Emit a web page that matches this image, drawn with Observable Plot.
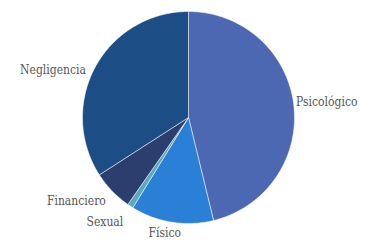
<!DOCTYPE html>
<html><head><meta charset="utf-8">
<script src="https://cdn.jsdelivr.net/npm/d3@7"></script>
<script src="https://cdn.jsdelivr.net/npm/@observablehq/plot@0.6"></script>
<style>body{margin:0;background:#fff}</style>
</head><body><div id="chart"></div>
<script>
const categories = ["Psicológico", "Físico", "Sexual", "Financiero", "Negligencia"];
const values = [46.2, 12.6, 0.9, 6.2, 34.1];
const colors = ["#4C68B2", "#2A7FD6", "#5BA9BE", "#2C3E6E", "#1D4D85"];

const pie = d3.pie().sort(null).value(d => d.value);
const arcs = pie(categories.map((c, i) => ({category: c, value: values[i]})));

// polygon points for each slice in unit-radius coordinates (y up)
const pts = [];
arcs.forEach(a => {
  const c = a.data.category;
  pts.push({category: c, x: 0, y: 0});
  const n = Math.max(2, Math.ceil((a.endAngle - a.startAngle) / 0.01));
  for (let k = 0; k <= n; k++) {
    const t = a.startAngle + (a.endAngle - a.startAngle) * k / n;
    pts.push({category: c, x: Math.sin(t), y: Math.cos(t)});
  }
  pts.push({category: c, x: 0, y: 0});
});

// label layout nudges (pixels), styling only
const nudge = {
  "Psicológico": [-5, -2], "Físico": [-6, -1], "Sexual": [-3, 5],
  "Financiero": [-1, 0], "Negligencia": [-3, 7]
};

const labels = arcs.map(a => {
  const m = (a.startAngle + a.endAngle) / 2;
  const R = 1.07;
  const s = Math.sin(m), co = Math.cos(m);
  return {
    category: a.data.category,
    x: s * R, y: co * R,
    anchor: s > 0.3 ? "start" : (s < -0.3 ? "end" : "middle"),
    line: co < -0.5 ? "top" : "middle"
  };
});

const textMarks = labels.map(d => Plot.text([d], {
  x: "x", y: "y", text: "category", textAnchor: d.anchor, lineAnchor: d.line,
  dx: nudge[d.category][0], dy: nudge[d.category][1],
  fill: "#555555", fontSize: 12, fontFamily: "'DejaVu Serif Condensed', 'DejaVu Serif', serif"
}));

const chart = Plot.plot({
  width: 379, height: 252,
  margin: 0,
  style: {background: "#ffffff"},
  x: {domain: [-188/106, (379-188)/106], axis: null},
  y: {domain: [-(252-117)/106, 117/106], axis: null},
  color: {domain: categories, range: colors},
  marks: [
    Plot.line(pts, {x: "x", y: "y", z: "category", fill: "category", stroke: "#ffffff", strokeWidth: 0.5, curve: "linear"}),
    ...textMarks
  ]
});
document.getElementById("chart").append(chart);
</script>
</body></html>
